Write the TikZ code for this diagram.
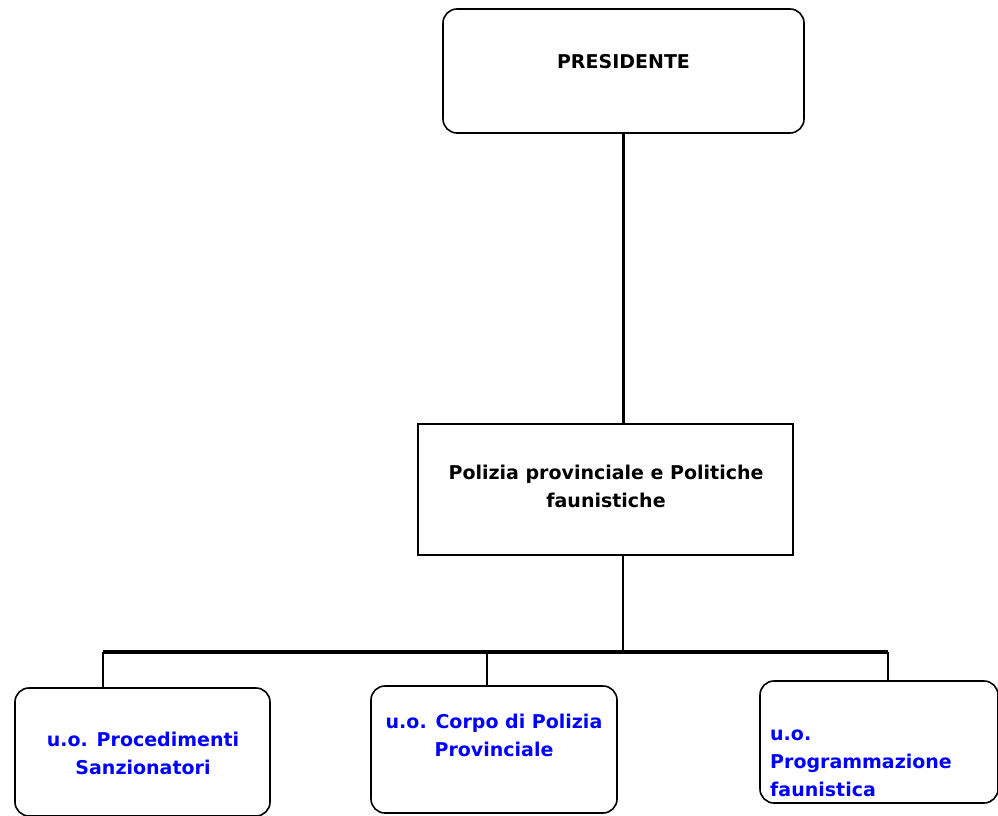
\documentclass[tikz,border=0pt]{standalone}
\usepackage{fontspec}
\setmainfont{DejaVu Sans}
\usetikzlibrary{positioning, calc}

\begin{document}
\begin{tikzpicture}[
    x=1pt, y=-1pt,
    roundbox/.style={draw, line width=1.6pt, rounded corners=14pt, inner sep=0pt},
    flatbox/.style={draw, line width=1.6pt, inner sep=0pt},
    boxtext/.style={font=\fontsize{19}{28}\selectfont\bfseries, inner sep=0pt},
    link/.style={line width=2.4pt},
    barline/.style={line width=3.2pt}
  ]
  \useasboundingbox (0,0) rectangle (998,816);

  % boxes
  \node [roundbox, minimum width=361pt, minimum height=124pt] (pres) at (623.5,71) {};
  \node [flatbox, minimum width=375pt, minimum height=131pt] (pol) at (605.5,489.5) {};
  \node [roundbox, minimum width=255pt, minimum height=128pt] (uo1) at (142.5,752) {};
  \node [roundbox, minimum width=246pt, minimum height=127pt] (uo2) at (494,749.5) {};
  \node [roundbox, minimum width=238pt, minimum height=122pt] (uo3) at (879,742) {};

  % labels
  \node [boxtext] (pres-t) at ([yshift=9]pres.center) {PRESIDENTE};
  \node [boxtext, align=center, anchor=north] (pol-t) at (606,465) {Polizia provinciale e Politiche\\faunistiche};
  \node [boxtext, align=center, anchor=north, text=blue] (uo1-t) at (143,732) {u.o. Procedimenti\\Sanzionatori};
  \node [boxtext, align=center, anchor=north, text=blue] (uo2-t) at (494,714) {u.o. Corpo di Polizia\\Provinciale};
  \node [boxtext, align=left, anchor=north west, text=blue] (uo3-t) at (770,730) {u.o.\\Programmazione\\faunistica};

  % connectors
  \coordinate (hub) at (623,652);
  \coordinate (j1) at (103,652);
  \coordinate (j2) at (487,652);
  \coordinate (j3) at (888,652);
  \draw [link] (pres.south) -- (pres.south |- pol.north);
  \draw [link] (pol.south -| hub) -- (hub);
  \draw [barline] (j1) -- (j3);
  \draw [link] (j1) -- (j1 |- uo1.north);
  \draw [link] (j2) -- (j2 |- uo2.north);
  \draw [link] (j3) -- (j3 |- uo3.north);
\end{tikzpicture}
\end{document}
